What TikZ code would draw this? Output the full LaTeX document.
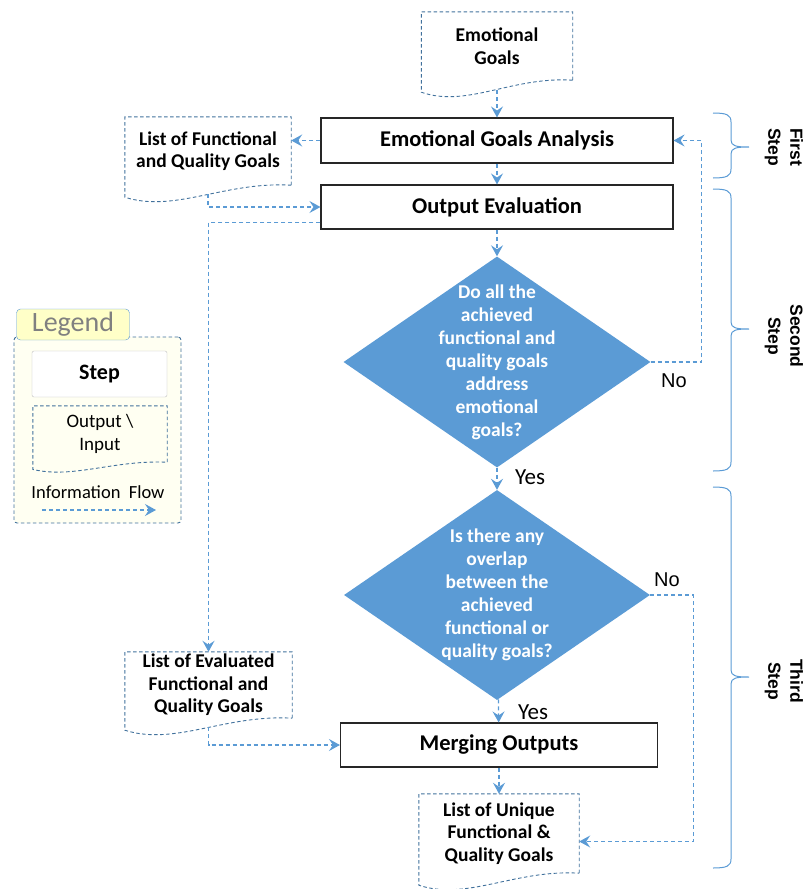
\documentclass[tikz,border=0pt]{standalone}
\usepackage{fontspec}
\setmainfont{Carlito}
\newfontfamily\arialfont{Liberation Sans}
\usetikzlibrary{shapes.geometric,arrows.meta,calc}

\definecolor{flowblue}{RGB}{91,155,213}
\definecolor{docblue}{RGB}{65,113,156}
\definecolor{legendtab}{RGB}{255,255,200}
\definecolor{legendbg}{RGB}{255,255,242}

\tikzset{
  stepbox/.style={draw=black!85, line width=1.1pt, fill=white, minimum height=44pt,
    font=\fontsize{22.5}{26}\selectfont\bfseries},
  docnode/.style={align=center, inner sep=0pt, font=\fontsize{19.5}{22.5}\selectfont\bfseries},
  docline/.style={draw=docblue, line width=0.9pt, dash pattern=on 3.5pt off 2.5pt},
  flow/.style={draw=flowblue, line width=1.2pt, dash pattern=on 4pt off 3pt,
    -{Stealth[length=11pt,width=12pt,inset=4pt]}},
  decision/.style={diamond, fill=flowblue, draw=none, inner sep=0pt},
  dtext/.style={text=white, align=center, font=\fontsize{19.5}{23}\selectfont\bfseries},
  answer/.style={font=\arialfont\fontsize{20}{22}\selectfont},
  yesanswer/.style={font=\fontsize{23}{24}\selectfont},
  bracelabel/.style={rotate=-90, align=center, font=\arialfont\bfseries\fontsize{17.5}{22}\selectfont},
}

% document shape round a named node
\newcommand{\docoutline}[2][1]{%
  \draw[docline] (#2.south east) -- (#2.north east) -- (#2.north west)
    -- ($(#2.south west)+(0,{12*#1})$)
    .. controls ($(#2.south west)!0.3!(#2.south east)+(0,{28*#1})$)
    and ($(#2.south west)!0.6!(#2.south east)+(0,{-4*#1})$) .. (#2.south east);}

% brace of a step, from top to bottom with its tip
\newcommand{\stepbrace}[3]{%
  \draw[flowblue, line width=1pt] (713,#1) .. controls (727,#1) and (731,{#1+2}) .. (731,{#1+9})
    -- (731,{#2-7}) .. controls (731,{#2-1}) and (736,#2) .. (749,#2)
    .. controls (736,#2) and (731,{#2+1}) .. (731,{#2+7})
    -- (731,{#3-9}) .. controls (731,{#3-2}) and (727,#3) .. (713,#3);}

\begin{document}
\begin{tikzpicture}[x=1pt,y=-1pt]
  \useasboundingbox (0,0) rectangle (805,889);
  % Steps and outputs
  \node[docnode, minimum width=151pt, minimum height=68pt] (emo) at (497,46) {Emotional\\Goals};
  \node[stepbox, minimum width=352pt, minimum height=45pt] (ega) at (497,140.5) {Emotional Goals Analysis};
  \node[stepbox, minimum width=352pt] (oe) at (497,207) {Output Evaluation};
  \node[docnode, minimum width=166pt, minimum height=68pt] (lfq) at (208,151) {List of Functional\\and Quality Goals};
  \node[decision, minimum width=307pt, minimum height=211pt,
    label={[dtext]center:{Do all the\\achieved\\functional and\\quality goals\\address\\emotional\\goals?}}] (d1) at (497,362) {};
  \node[decision, minimum width=306pt, minimum height=210pt,
    label={[dtext]center:{Is there any\\overlap\\between the\\achieved\\functional or\\quality goals?}}] (d2) at (497,595) {};
  \node[stepbox, minimum width=317pt] (mo) at (499,745) {Merging Outputs};
  \node[docnode, minimum width=167pt, minimum height=66pt] (leq) at (208.5,685) {List of Evaluated\\Functional and\\Quality Goals};
  \node[docnode, minimum width=160pt, minimum height=79pt] (luq) at (499,833.5) {List of Unique\\Functional \&\\Quality Goals};
  \docoutline{emo}
  \docoutline{lfq}
  \docoutline{leq}
  \docoutline{luq}
  % Information flow
  \draw[flow] ([yshift=-10pt]emo.south) -- (ega);
  \draw[flow] (ega) -- (oe);
  \draw[flow] (ega.west) -- (ega.west -| lfq.east);
  \draw[flow] ([yshift=-9pt]lfq.south) |- (oe.west);
  \draw[flow] ([yshift=7pt]oe.south west) -| (leq.north);
  \draw[flow] (oe) -- (d1);
  \draw[flow] (d1.east) -- ++(51,0) |- (ega.east);
  \draw[flow] (d1) -- (d2);
  \draw[flow] (d2.east) -- ++(43,0) |- ([yshift=-8pt]luq.east);
  \draw[flow] (d2) -- (mo);
  \draw[flow] (mo) -- (luq);
  \draw[flow] ([yshift=-9pt]leq.south) |- (mo.west);
  % Answers
  \node[answer] (no1) at (674,381) {No};
  \node[yesanswer] (yes1) at (530,477) {Yes};
  \node[answer] (no2) at (667,580) {No};
  \node[yesanswer] (yes2) at (533,712) {Yes};
  % Steps braces
  \stepbrace{113}{147}{178}
  \stepbrace{189}{329}{471}
  \stepbrace{487}{677}{868}
  \node[bracelabel] (first) at (784,147) {First\\Step};
  \node[bracelabel] (second) at (784,336) {Second\\Step};
  \node[bracelabel] (third) at (784,681) {Third\\Step};
  % Legend
  \node[docline, fill=legendbg, rounded corners=3pt, minimum width=167pt, minimum height=186pt] (legendframe) at (97.5,430) {};
  \node[draw=flowblue, fill=legendtab, rounded corners=4pt, minimum width=113pt, minimum height=31pt,
    text=gray, font=\fontsize{28}{28}\selectfont] (legendtitle) at (73,324.5) {Legend};
  \node[draw=black!25, fill=white, rounded corners=2pt, minimum width=135pt, minimum height=46pt,
    font=\fontsize{22}{24}\selectfont\bfseries] (lstep) at (99.5,374) {Step};
  \node[docnode, font=\fontsize{19}{23}\selectfont, minimum width=134pt, minimum height=56pt] (ldoc) at (100,434) {Output \textbackslash\\Input};
  \docoutline[0.6]{ldoc}
  \node[font=\fontsize{18.5}{20}\selectfont] (lflowtext) at (98,492) {Information\ \ Flow};
  \coordinate (lflowA) at (42,510);
  \coordinate (lflowB) at (156,510);
  \draw[flow] (lflowA) -- (lflowB);
\end{tikzpicture}
\end{document}
